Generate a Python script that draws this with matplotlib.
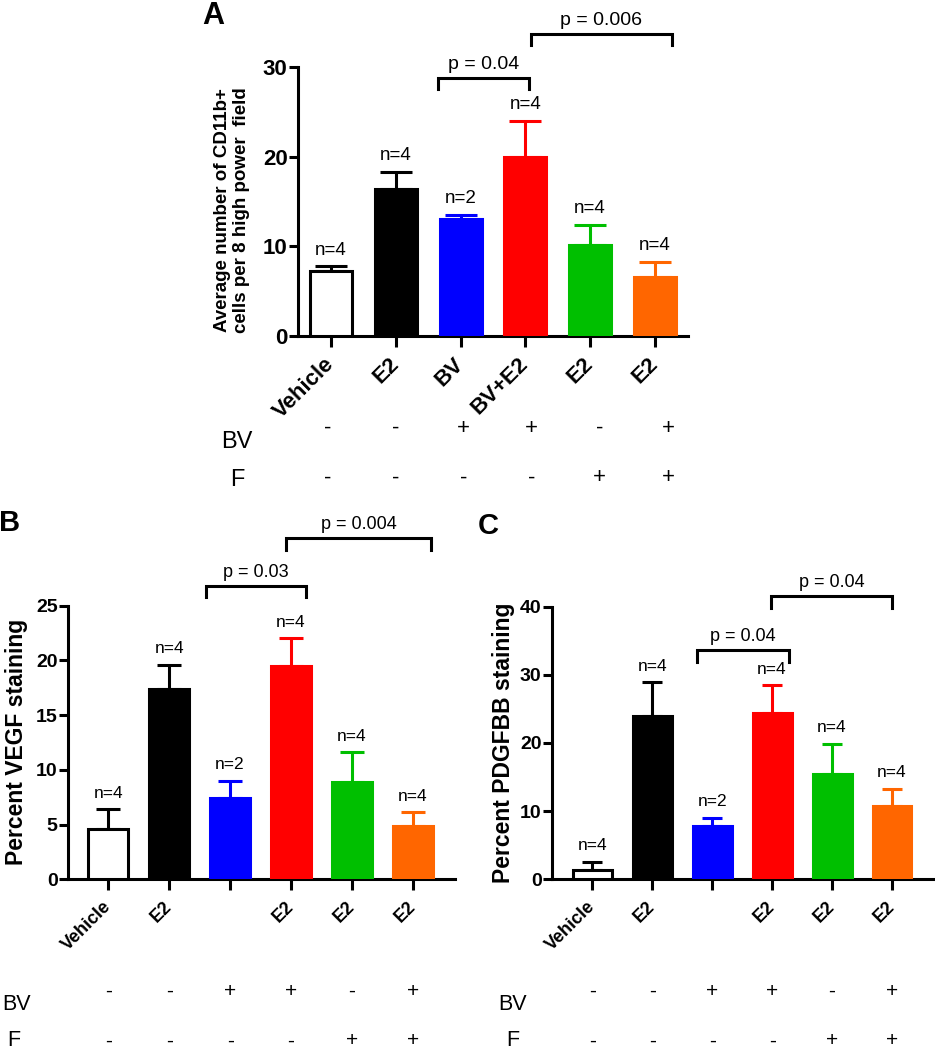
import numpy as np
import matplotlib.pyplot as plt
from matplotlib import transforms

plt.rcParams['font.family'] = ['Liberation Sans', 'DejaVu Sans']

#bar fill colours, same order in every panel (vehicle is an open bar)
colors = ['white', 'black', '#0000FF', '#FF0000', '#00BF00', '#FF6600']
edges = ['black', 'black', '#0000FF', '#FF0000', '#00BF00', '#FF6600']

#treatment table under the bars
bv_row = ['-', '-', '+', '+', '-', '+']
f_row = ['-', '-', '-', '-', '+', '+']
n_labels = ['n=4', 'n=4', 'n=2', 'n=4', 'n=4', 'n=4']

#panel A: CD11b+ cells
labelsA = ['Vehicle', 'E2', 'BV', 'BV+E2', 'E2', 'E2']
meanA = [7.3, 16.4, 13.0, 20.0, 10.1, 6.6]
semA = [0.5, 1.9, 0.5, 4.0, 2.3, 1.7]
pA = ['p = 0.04', 'p = 0.006']

#panel B: VEGF
labelsB = ['Vehicle', 'E2', '', 'E2', 'E2', 'E2']
meanB = [4.6, 17.4, 7.4, 19.5, 8.9, 4.9]
semB = [1.8, 2.2, 1.6, 2.5, 2.7, 1.2]
pB = ['p = 0.03', 'p = 0.004']

#panel C: PDGFBB
labelsC = ['Vehicle', 'E2', '', 'E2', 'E2', 'E2']
meanC = [1.4, 24.0, 7.8, 24.4, 15.5, 10.8]
semC = [1.2, 4.9, 1.2, 4.1, 4.4, 2.5]
pC = ['p = 0.04', 'p = 0.04']

#bracket ends (x0, x1) and heights (top, leg) in data units
bracketsA = [(1.65, 3.05, 28.8, 27.5), (3.09, 5.26, 33.7, 32.5)]
bracketsB = [(1.61, 3.25, 26.8, 25.8), (2.92, 5.30, 31.2, 30.1)]
bracketsC = [(1.75, 3.28, 33.7, 31.9), (2.98, 5.00, 41.6, 39.8)]


def draw_panel(ax, labels, means, sems, brackets, pvals, ymax, ystep,
               tick_fs, xlab_fs, n_fs, p_fs, capsize, xlim):
    x = np.arange(len(means))
    ax.bar(x, means, width=0.65, color=colors, edgecolor=edges,
           linewidth=2.2, zorder=3)
    #only the upper half of the error bar is shown
    for i in range(len(means)):
        ax.errorbar(x[i], means[i], yerr=[[0], [sems[i]]], fmt='none',
                    ecolor=edges[i], elinewidth=2.2, capsize=capsize,
                    capthick=2.2, zorder=2)
        ax.annotate(n_labels[i], (x[i], means[i] + sems[i]),
                    xytext=(0, 11.5), textcoords='offset points',
                    ha='center', va='center', fontsize=n_fs)
    for k in range(len(brackets)):
        x0, x1, ytop, yleg = brackets[k]
        ax.plot([x0, x0, x1, x1], [yleg, ytop, ytop, yleg], color='black',
                lw=2.2, clip_on=False, solid_joinstyle='miter')
        ax.annotate(pvals[k], ((x0 + x1) / 2, ytop), xytext=(0, 3.5),
                    textcoords='offset points', ha='center', va='bottom',
                    fontsize=p_fs, annotation_clip=False)
    ax.set_xlim(xlim)
    ax.set_ylim(0, ymax)
    ax.set_yticks(np.arange(0, ymax + 1, ystep))
    ax.set_xticks(x)
    ax.set_xticklabels(labels, rotation=45, ha='right', va='center',
                       rotation_mode='anchor', fontsize=xlab_fs,
                       fontweight='bold')
    for lab in ax.get_yticklabels():
        lab.set_fontsize(tick_fs)
        lab.set_fontweight('bold')
    ax.spines['top'].set_visible(False)
    ax.spines['right'].set_visible(False)
    ax.spines['left'].set_linewidth(2.2)
    ax.spines['bottom'].set_linewidth(2.2)
    ax.tick_params(axis='y', length=6.5, width=2.2, pad=1)
    ax.tick_params(axis='x', length=8, width=2.2, pad=10)


def draw_rows(fig, ax, xs, y_bv, y_f, fs):
    tr = transforms.blended_transform_factory(ax.transData, fig.transFigure)
    for i in range(len(xs)):
        ax.text(xs[i], y_bv, bv_row[i], transform=tr, ha='center',
                va='center', fontsize=fs)
        ax.text(xs[i], y_f, f_row[i], transform=tr, ha='center',
                va='center', fontsize=fs)


fig = plt.figure(figsize=(9.35, 10.5), dpi=100)

axA = fig.add_axes([0.3187, 0.68, 0.4171, 0.2562])
axB = fig.add_axes([0.0727, 0.1626, 0.4139, 0.2607])
axC = fig.add_axes([0.5904, 0.1626, 0.4085, 0.2597])

draw_panel(axA, labelsA, meanA, semA, bracketsA, pA, 30, 10,
           16, 16, 13.5, 14, 11.5, (-0.51, 5.51))
draw_panel(axB, labelsB, meanB, semB, bracketsB, pB, 25, 5,
           14, 13, 12.5, 13, 8.5, (-0.66, 5.69))
draw_panel(axC, labelsC, meanC, semC, bracketsC, pC, 40, 10,
           14, 13, 12.5, 13, 7.5, (-0.67, 5.70))

#y axis titles
fig.text(0.248, 0.80, 'Average number of CD11b+\ncells per 8 high power  field',
         rotation=90, ha='center', va='center', fontsize=13.5,
         fontweight='bold', multialignment='center', linespacing=1.1)
fig.text(0.018, 0.293, 'Percent VEGF staining', rotation=90, ha='center',
         va='center', fontsize=16.5, fontweight='bold')
fig.text(0.539, 0.293, 'Percent PDGFBB staining', rotation=90, ha='center',
         va='center', fontsize=16.5, fontweight='bold')

#panel letters
fig.text(0.228, 0.999, 'A', ha='center', va='top', fontsize=22,
         fontweight='bold')
fig.text(0.010, 0.502, 'B', ha='center', va='center', fontsize=21,
         fontweight='bold')
fig.text(0.522, 0.499, 'C', ha='center', va='center', fontsize=21,
         fontweight='bold')

#+/- rows
xA = [1.05 * i - 0.05 for i in range(6)]
draw_rows(fig, axA, xA, 0.592, 0.545, 16)
draw_rows(fig, axB, list(range(6)), 0.0555, 0.0086, 15)
draw_rows(fig, axC, list(range(6)), 0.0555, 0.0086, 15)

fig.text(0.2535, 0.579, 'BV', ha='center', va='center', fontsize=17)
fig.text(0.2535, 0.543, 'F', ha='center', va='center', fontsize=17)
fig.text(0.018, 0.0429, 'BV', ha='center', va='center', fontsize=15.5)
fig.text(0.015, 0.0095, 'F', ha='center', va='center', fontsize=15.5)
fig.text(0.548, 0.0429, 'BV', ha='center', va='center', fontsize=15.5)
fig.text(0.548, 0.0095, 'F', ha='center', va='center', fontsize=15.5)

fig.savefig('out.png', dpi=100)
